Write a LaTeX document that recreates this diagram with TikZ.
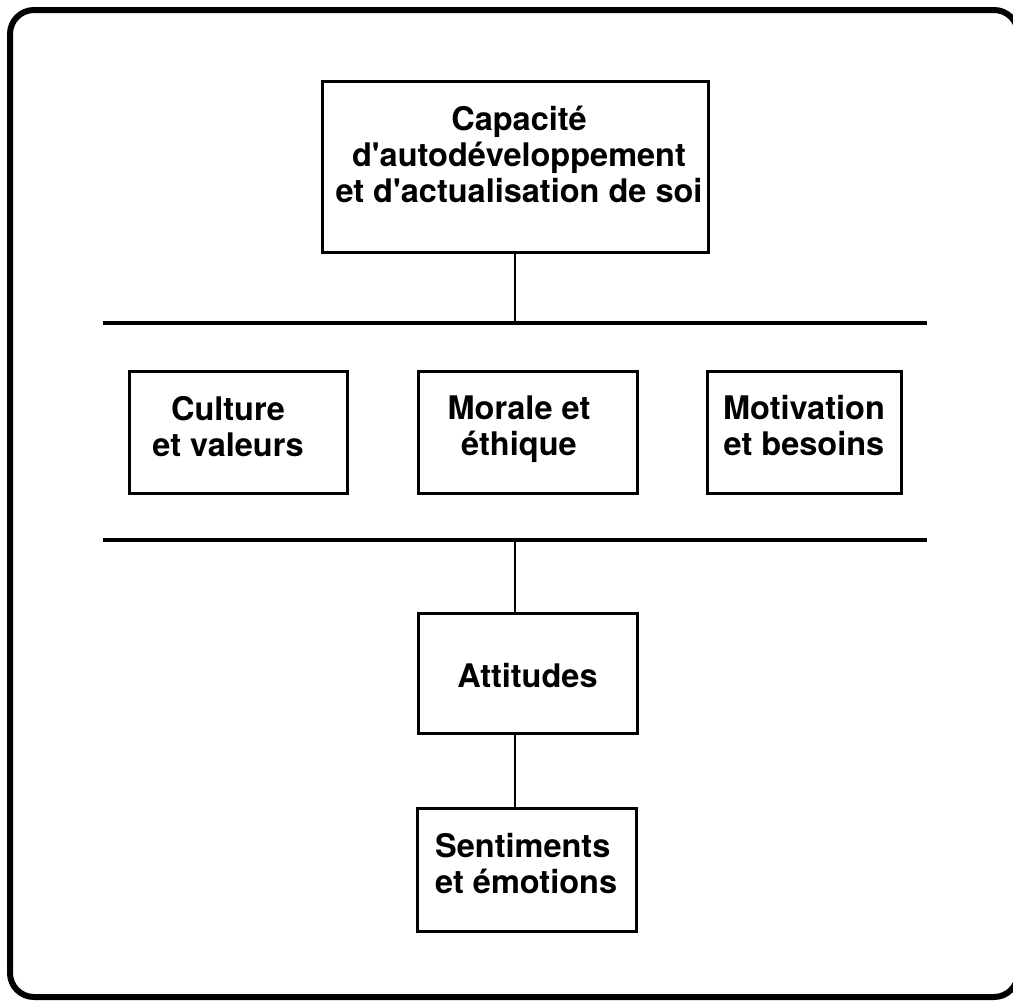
\documentclass[tikz,border=0pt]{standalone}
\usepackage{fontspec}
\setmainfont{TeX Gyre Heros}[Ligatures=TeXOff]
\begin{document}
\begin{tikzpicture}[x=1pt,y=-1pt]
\tikzset{
  frame/.style={line width=6pt, rounded corners=24pt},
  box/.style={draw, line width=3pt, inner sep=0pt},
  sepline/.style={line width=4pt},
  link/.style={line width=2.5pt},
  txt/.style={inner sep=0pt, font=\fontsize{32.5}{36}\selectfont\bfseries,
              align=center, anchor=north}
}
\useasboundingbox (0,0) rectangle (1013,1001);
\clip (0,0) rectangle (1013,1001);

% outer frame, its right side running just past the page edge
\draw[frame] (10,10) rectangle (1018,997);

% boxes
\node[box, minimum width=386pt, minimum height=171pt] (cap) at (515,166.5) {};
\node[box, minimum width=218pt, minimum height=122pt] (cult) at (238,432) {};
\node[box, minimum width=219pt, minimum height=122pt] (mor) at (527.5,432) {};
\node[box, minimum width=194pt, minimum height=122pt] (motiv) at (804,432) {};
\node[box, minimum width=219pt, minimum height=120pt] (att) at (527.5,673) {};
\node[box, minimum width=219pt, minimum height=123pt] (sent) at (526.5,869.5) {};

% texts
\node[txt] (capT) at (519,104.8) {\strut Capacité\\d'autodéveloppement\\et d'actualisation de soi};
\node[txt] (cultT) at (228,394.8) {\strut Culture\\et valeurs};
\node[txt] (morT) at (519,393.8) {\strut Morale et\\éthique};
\node[txt] (motivT) at (804,393.8) {\strut Motivation\\et besoins};
\node[txt] (attT) at (527.5,661.8) {\strut Attitudes};
\node[txt, anchor=north west, align=left] (sentT) at (435,831.8) {\strut Sentiments\\et émotions};

% separator lines
\coordinate (s1a) at (103,323);
\coordinate (s1b) at (927,323);
\coordinate (s2a) at (103,540);
\coordinate (s2b) at (927,540);
\coordinate (j2) at (515,540);
\draw[sepline] (s1a) -- (s1b);
\draw[sepline] (s2a) -- (s2b);

% connectors
\draw[link] (cap.south) -- (cap.south |- s1a);
\draw[link] (j2) -- (j2 |- att.north);
\draw[link] (att.south -| j2) -- (sent.north -| j2);
\end{tikzpicture}
\end{document}
